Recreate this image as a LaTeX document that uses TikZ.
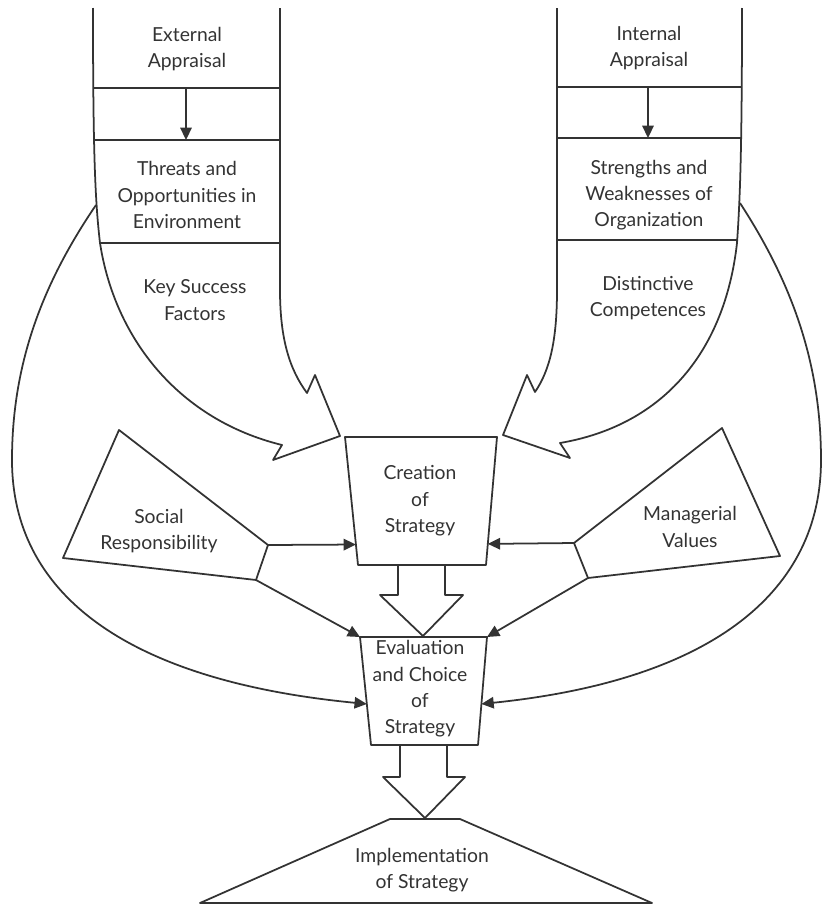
\documentclass[tikz,border=0pt]{standalone}
\usepackage{fontspec}
\setmainfont{Lato}
\usepackage{tikz}
\usetikzlibrary{
  calc,
  positioning,
  arrows.meta
}

\tikzset{
  outline/.style={draw=black!80,line width=1pt,line join=round},
  flow/.style={outline,-{Triangle[length=7pt,width=6.5pt]}},
  caption/.style={align=center,text=black!80,font=\fontsize{11}{15}\selectfont}
}

\begin{document}
\begin{tikzpicture}[x=0.02cm,y=-0.02cm]
  \useasboundingbox (0,0) rectangle (823,906);

  % external appraisal column, bent into the creation box
  \draw[outline] (93,8) .. controls (93,150) and (95,200) .. (100,243)
  .. controls (115,340) and (180,420) .. (282,445) -- (273,460) -- (340,436)
  -- (315,375) -- (307,393) .. controls (290,370) and (280,340) .. (280,290) -- (280,8);
  \draw[outline] (93.5,88) -- (280,88);
  \draw[outline] (94,140) -- (280,140);
  \draw[outline] (100,243) -- (280,243);
  \coordinate (extA) at (186,88);
  \coordinate (extB) at (186,140);
  \draw[flow] (extA) -- (extB);

  \node[caption] at (187,49) (External) {External\\Appraisal};
  \node[caption] at (187,195) (Threats) {Threats and\\Opportunities in\\Environment};
  \node[caption] at (195,300) (Success) {Key Success\\Factors};

  % internal appraisal column
  \draw[outline] (742,8) .. controls (742,150) and (740,200) .. (737,243)
  .. controls (725,350) and (665,425) .. (560,443) -- (570,458) -- (503,435)
  -- (527,375) -- (535,392) .. controls (550,370) and (557,340) .. (557,290) -- (557,8);
  \draw[outline] (557,87) -- (742,87);
  \draw[outline] (557,138) -- (741.5,138);
  \draw[outline] (557,240) -- (737.5,240);
  \coordinate (intA) at (648,87);
  \coordinate (intB) at (648,138);
  \draw[flow] (intA) -- (intB);

  \node[caption] at (649,48) (Internal) {Internal\\Appraisal};
  \node[caption] at (649,195) (Strengths) {Strengths and\\Weaknesses of\\Organization};
  \node[caption] at (648,298) (Competences) {Distinctive\\Competences};

  % creation of strategy
  \coordinate (crTL) at (345,437);
  \coordinate (crTR) at (497,437);
  \coordinate (crBR) at (486,565);
  \coordinate (crBL) at (358,565);
  \draw[outline] (crTL) -- (crTR) -- (crBR) -- (crBL) -- cycle;
  \node[caption] at (420,501) (Creation) {Creation\\of\\Strategy};

  % evaluation and choice
  \coordinate (evTL) at (360,637);
  \coordinate (evTR) at (487,637);
  \coordinate (evBR) at (478,745);
  \coordinate (evBL) at (371,745);
  \draw[outline] (evTL) -- (evTR) -- (evBR) -- (evBL) -- cycle;
  \node[caption] at (420,689) (Evaluation) {Evaluation\\and Choice\\of\\Strategy};

  % implementation
  \draw[outline] (200,903) -- (390,819) -- (460,819) -- (652,903) -- cycle;
  \node[caption] at (422,870) (Implementation) {Implementation\\of Strategy};

  % block arrows
  \draw[outline] (398,565) -- (398,595) -- (380,595) -- (423,636)
  -- (463,595) -- (445,595) -- (445,565);
  \draw[outline] (400,745) -- (400,777) -- (383,777) -- (425,818)
  -- (465,777) -- (447,777) -- (447,745);

  % social responsibility
  \coordinate (srR) at (268,545);
  \coordinate (srB) at (256,580);
  \draw[outline] (119,430) -- (srR) -- (srB) -- (63,558) -- cycle;
  \node[caption] at (159,531) (Social) {Social\\Responsibility};
  \draw[flow] (srR) -- ($(crTL)!0.84!(crBL)$);
  \draw[flow] (srB) -- (evTL);

  % managerial values
  \coordinate (mvL) at (574,543);
  \coordinate (mvB) at (588,578);
  \draw[outline] (722,428) -- (780,556) -- (mvB) -- (mvL) -- cycle;
  \node[caption] at (690,527) (Managerial) {Managerial\\Values};
  \draw[flow] (mvL) -- ($(crTR)!0.835!(crBR)$);
  \draw[flow] (mvB) -- (evTR);

  % long feedback curves
  \coordinate (extOut) at (96,205);
  \coordinate (intOut) at (740,203);
  \draw[flow] (extOut) .. controls (45,280) and (12,360) .. (12,460)
  .. controls (12,590) and (120,680) .. ($(evTL)!0.62!(evBL)$);
  \draw[flow] (intOut) .. controls (790,280) and (821,360) .. (821,460)
  .. controls (821,590) and (715,680) .. ($(evTR)!0.62!(evBR)$);
\end{tikzpicture}
\end{document}
